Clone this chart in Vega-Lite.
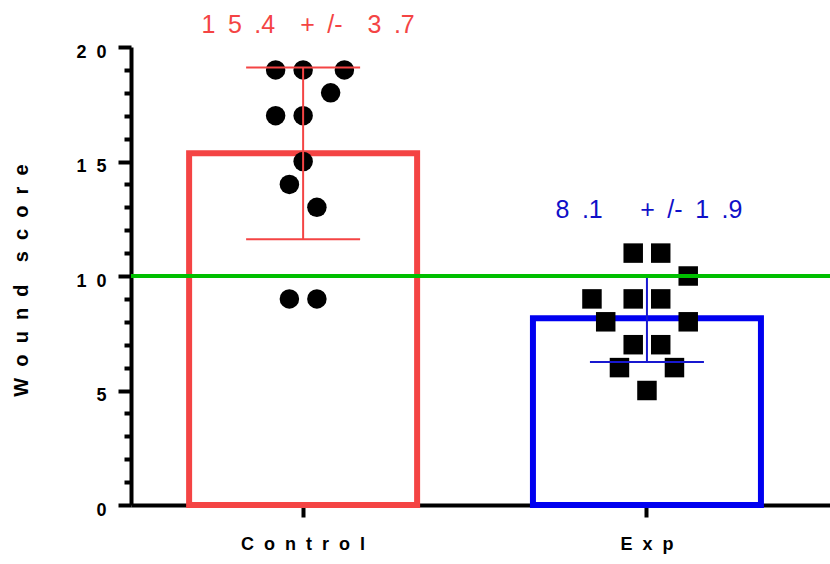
{
  "$schema": "https://vega.github.io/schema/vega-lite/v6.json",
  "width": 699,
  "height": 458,
  "autosize": "none",
  "padding": {"left": 131, "top": 47, "right": 0, "bottom": 59},
  "background": "white",
  "config": {"view": {"stroke": null}, "font": "Liberation Sans",
    "axisY": {"grid": false, "domainWidth": 4, "domainColor": "black", "tickWidth": 4, "tickColor": "black", "labelOverlap": false, "labelFontSize": 18, "labelFontWeight": "bold", "labelColor": "black", "labelFont": "Liberation Sans", "labelPadding": 12, "labelOffset": 5, "titleFontSize": 20, "titleFontWeight": "bold", "titleColor": "black", "titleFont": "Liberation Sans", "titleAngle": -90, "titleAlign": "center", "titleBaseline": "alphabetic", "titleX": -104, "titleY": 233}
  },
  "datasets": {
    "points": [
      {"group": "Control", "score": 19, "dx": -2},
      {"group": "Control", "score": 19, "dx": 0},
      {"group": "Control", "score": 19, "dx": 3},
      {"group": "Control", "score": 18, "dx": 2},
      {"group": "Control", "score": 17, "dx": -2},
      {"group": "Control", "score": 17, "dx": 0},
      {"group": "Control", "score": 15, "dx": 0},
      {"group": "Control", "score": 14, "dx": -1},
      {"group": "Control", "score": 13, "dx": 1},
      {"group": "Control", "score": 9, "dx": -1},
      {"group": "Control", "score": 9, "dx": 1},
      {"group": "Exp", "score": 11, "dx": -1},
      {"group": "Exp", "score": 11, "dx": 1},
      {"group": "Exp", "score": 10, "dx": 3},
      {"group": "Exp", "score": 9, "dx": -4},
      {"group": "Exp", "score": 9, "dx": -1},
      {"group": "Exp", "score": 9, "dx": 1},
      {"group": "Exp", "score": 8, "dx": -3},
      {"group": "Exp", "score": 8, "dx": 3},
      {"group": "Exp", "score": 7, "dx": -1},
      {"group": "Exp", "score": 7, "dx": 1},
      {"group": "Exp", "score": 6, "dx": -2},
      {"group": "Exp", "score": 6, "dx": 2},
      {"group": "Exp", "score": 5, "dx": 0}
    ],
    "summary": [
      {"group": "Control", "mean": 15.36, "lo": 11.61, "hi": 19.11},
      {"group": "Exp", "mean": 8.15, "lo": 6.24, "hi": 10.02}
    ]
  },
  "layer": [
    {
      "data": {"name": "summary"},
      "mark": {"type": "bar", "fill": "white", "strokeWidth": 6, "size": 228},
      "encoding": {
        "x": {
          "field": "group", "type": "nominal", "sort": ["Control", "Exp"],
          "scale": {"paddingInner": 0.337, "paddingOuter": 0.185, "align": 0.457},
          "axis": {
            "title": null, "labelAngle": 0, "domainWidth": 4, "domainColor": "black",
            "tickWidth": 4, "tickColor": "black", "tickSize": 12,
            "labelPadding": 18, "labelBaseline": "top", "labelFontSize": 18,
            "labelFontWeight": "bold", "labelColor": "black", "labelFont": "Liberation Sans",
            "labelExpr": "join(split(datum.label,''),'\u00a0\u00a0') + '\u00a0\u00a0'"
          }
        },
        "y": {
          "field": "mean", "type": "quantitative",
          "scale": {"domain": [0, 20], "nice": false},
          "axis": {
            "values": [0,1,2,3,4,5,6,7,8,9,10,11,12,13,14,15,16,17,18,19,20],
            "tickCount": 40,
            "format": "d",
            "tickSize": {"condition": {"test": "indexof([0,5,10,15,20], datum.value) >= 0", "value": 13}, "value": 7},
            "labelExpr": "indexof([0,5,10,15,20], datum.value) >= 0 ? join(split(datum.label,''),'\u00a0\u00a0') : ''",
            "title": "W\u00a0\u00a0o\u00a0\u00a0u\u00a0\u00a0n\u00a0\u00a0d\u00a0\u00a0\u00a0\u00a0s\u00a0\u00a0c\u00a0\u00a0o\u00a0\u00a0r\u00a0\u00a0e"
          }
        },
        "stroke": {
          "field": "group", "type": "nominal",
          "scale": {"domain": ["Control", "Exp"], "range": ["#F44444", "#0000F0"]},
          "legend": null
        }
      }
    },
    {
      "data": {"name": "points"},
      "mark": {"type": "point", "filled": true, "opacity": 1, "color": "black", "size": 380},
      "encoding": {
        "x": {"field": "group", "type": "nominal", "sort": ["Control", "Exp"]},
        "xOffset": {"field": "dx", "type": "quantitative", "scale": {"domain": [-8.29, 8.29], "range": [0, 228]}},
        "y": {"field": "score", "type": "quantitative"},
        "shape": {
          "field": "group", "type": "nominal",
          "scale": {"domain": ["Control", "Exp"], "range": ["circle", "square"]},
          "legend": null
        }
      }
    },
    {
      "data": {"name": "summary"},
      "mark": {"type": "rule", "strokeWidth": 2},
      "encoding": {
        "x": {"field": "group", "type": "nominal", "sort": ["Control", "Exp"]},
        "y": {"field": "lo", "type": "quantitative"},
        "y2": {"field": "hi"},
        "color": {
          "field": "group", "type": "nominal",
          "scale": {"domain": ["Control", "Exp"], "range": ["#F44444", "#1818D0"]},
          "legend": null
        }
      }
    },
    {
      "data": {"name": "summary"},
      "mark": {"type": "tick", "thickness": 2, "size": 114, "opacity": 1},
      "encoding": {
        "x": {"field": "group", "type": "nominal", "sort": ["Control", "Exp"]},
        "y": {"field": "lo", "type": "quantitative"},
        "color": {"field": "group", "type": "nominal", "legend": null}
      }
    },
    {
      "data": {"name": "summary"},
      "mark": {"type": "tick", "thickness": 2, "size": 114, "opacity": 1},
      "encoding": {
        "x": {"field": "group", "type": "nominal", "sort": ["Control", "Exp"]},
        "y": {"field": "hi", "type": "quantitative"},
        "color": {"field": "group", "type": "nominal", "legend": null}
      }
    },
    {
      "data": {"values": [{}]},
      "mark": {"type": "rule", "color": "#00BF00", "strokeWidth": 4},
      "encoding": {"y": {"datum": 10, "type": "quantitative"}}
    },
    {
      "data": {"values": [{}]},
      "mark": {"type": "text", "fontSize": 25, "font": "Liberation Sans", "color": "#F44444", "dx": 5, "baseline": "alphabetic", "align": "center"},
      "encoding": {
        "x": {"datum": "Control", "type": "nominal"},
        "y": {"datum": 20.61, "type": "quantitative"},
        "text": {"value": "1\u20025\u2002.4\u2002\u2002+\u2002/-\u2002\u20023\u2002.7"}
      }
    },
    {
      "data": {"values": [{}]},
      "mark": {"type": "text", "fontSize": 25, "font": "Liberation Sans", "color": "#1010C8", "dx": 2, "baseline": "alphabetic", "align": "center"},
      "encoding": {
        "x": {"datum": "Exp", "type": "nominal"},
        "y": {"datum": 12.53, "type": "quantitative"},
        "text": {"value": "8\u2002.1\u2002\u2002\u2002+\u2002/-\u20021\u2002.9"}
      }
    }
  ]
}
